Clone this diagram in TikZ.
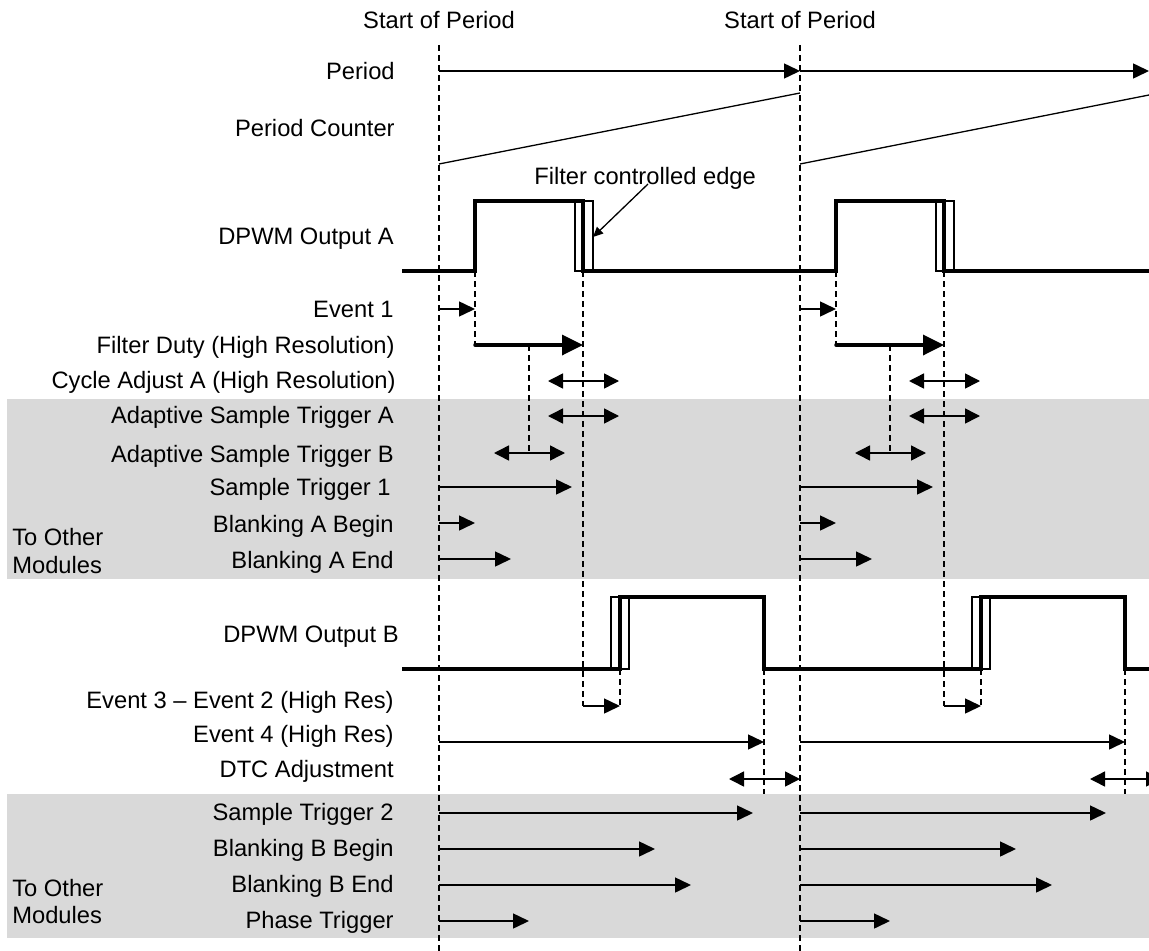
\documentclass[tikz,border=0pt]{standalone}
\usepackage{fontspec}
\setmainfont{Liberation Sans}
\usetikzlibrary{arrows.meta}

\definecolor{bandgray}{RGB}{217,217,217}

\begin{document}
\begin{tikzpicture}[
    x=0.2mm, y=-0.2mm,
    lbl/.style={anchor=base east, inner sep=0pt, font=\fontsize{13.5}{16}\selectfont},
    guide/.style={dash pattern=on 1.2mm off 0.8mm, line width=0.25mm},
    sig/.style={line width=0.8mm, line join=miter},
    edgebox/.style={line width=0.22mm},
    tline/.style={line width=0.26mm},
    tarr/.style={line width=0.3mm, -{Triangle[length=3.2mm, width=3mm]}},
    darr/.style={line width=0.3mm, {Triangle[length=3mm, width=3mm]}-{Triangle[length=3mm, width=3mm]}},
    duty/.style={line width=0.7mm, line cap=round, -{Triangle[length=4.2mm, width=4mm]}}
  ]
  \clip (0,0) rectangle (1149,951);

  % shaded groups
  \fill[bandgray] (7,399) rectangle (1149,579);
  \fill[bandgray] (7,794) rectangle (1149,938);

  % period boundaries
  \node[lbl, anchor=base] (sop1) at (439,29) {Start of Period};
  \node[lbl, anchor=base] (sop2) at (800,29) {Start of Period};
  \draw[guide] (439,45) -- (439,951);
  \draw[guide] (800,45) -- (800,951);

  % row labels
  \node[lbl] (lperiod) at (395,80) {Period};
  \node[lbl] (lcounter) at (395,136) {Period Counter};
  \node[lbl] (lpwma) at (394,244) {DPWM Output A};
  \node[lbl] (lev1) at (394,317) {Event 1};
  \node[lbl] (lfilt) at (395,353) {Filter Duty (High Resolution)};
  \node[lbl] (lcyc) at (396,388) {Cycle Adjust A (High Resolution)};
  \node[lbl] (ladpa) at (394,423) {Adaptive Sample Trigger A};
  \node[lbl] (ladpb) at (394,462) {Adaptive Sample Trigger B};
  \node[lbl] (lst1) at (391,495) {Sample Trigger 1};
  \node[lbl] (lbab) at (394,532) {Blanking A Begin};
  \node[lbl] (lbae) at (394,568) {Blanking A End};
  \node[lbl, anchor=base west] (lmoda1) at (12,545) {To Other};
  \node[lbl, anchor=base west] (lmoda2) at (12,573) {Modules};
  \node[lbl] (lpwmb) at (399,642) {DPWM Output B};
  \node[lbl] (lev32) at (394,708) {Event 3 -- Event 2 (High Res)};
  \node[lbl] (lev4) at (394,742) {Event 4 (High Res)};
  \node[lbl] (ldtc) at (394,777) {DTC Adjustment};
  \node[lbl] (lst2) at (394,820) {Sample Trigger 2};
  \node[lbl] (lbbb) at (394,856) {Blanking B Begin};
  \node[lbl] (lbbe) at (394,892) {Blanking B End};
  \node[lbl] (lphase) at (394,928) {Phase Trigger};
  \node[lbl, anchor=base west] (lmodb1) at (12,896) {To Other};
  \node[lbl, anchor=base west] (lmodb2) at (12,923) {Modules};

  % period and counter
  \draw[tarr] (439,71) -- (800,71);
  \draw[tarr] (800,71) -- (1149,71);
  \draw[tline] (439,164) -- (800,93);
  \draw[tline] (800,164) -- (1149,95);

  % per-period marks
  \foreach \t in {0,361} {
    \begin{scope}[xshift=\t*0.2mm]
      \draw[edgebox] (575,201) rectangle (583,271) (583,201) rectangle (593,271);
      \draw[edgebox] (611,597) rectangle (620,669) (620,597) rectangle (629,669);
      \draw[guide] (475,271) -- (475,345);
      \draw[guide] (583,271) -- (583,706);
      \draw[guide] (529,345) -- (529,453);
      \draw[guide] (620,669) -- (620,706);
      \draw[guide] (764,669) -- (764,794);
      \draw[tarr] (439,309) -- (475,309);
      \draw[duty] (475,345) -- (583,345);
      \draw[darr] (548,381) -- (619,381);
      \draw[darr] (548,416) -- (619,416);
      \draw[darr] (494,453) -- (565,453);
      \draw[tarr] (439,487) -- (572,487);
      \draw[tarr] (439,523) -- (475,523);
      \draw[tarr] (439,559) -- (511,559);
      \draw[tarr] (583,706) -- (620,706);
      \draw[tarr] (439,742) -- (764,742);
      \draw[darr] (729,779) -- (800,779);
      \draw[tarr] (439,849) -- (655,849);
      \draw[tarr] (439,885) -- (691,885);
      \draw[tarr] (439,921) -- (529,921);
    \end{scope}
  }
  \draw[tarr] (439,813) -- (753,813);
  \draw[tarr] (800,813) -- (1106,813);

  % waveforms
  \draw[sig] (402,271) -- (475,271) -- (475,201) -- (583,201) -- (583,271)
    -- (836,271) -- (836,201) -- (944,201) -- (944,271) -- (1149,271);
  \draw[sig] (402,669) -- (620,669) -- (620,597) -- (764,597) -- (764,669)
    -- (981,669) -- (981,597) -- (1125,597) -- (1125,669) -- (1149,669);

  % filter controlled edge
  \node[lbl, anchor=base west] (fce) at (534,184) {Filter controlled edge};
  \coordinate (fcefrom) at (648,184);
  \coordinate (fceto) at (593,237);
  \draw[tline, -{Triangle[length=2mm, width=1.8mm]}] (fcefrom) -- (fceto);
\end{tikzpicture}
\end{document}
